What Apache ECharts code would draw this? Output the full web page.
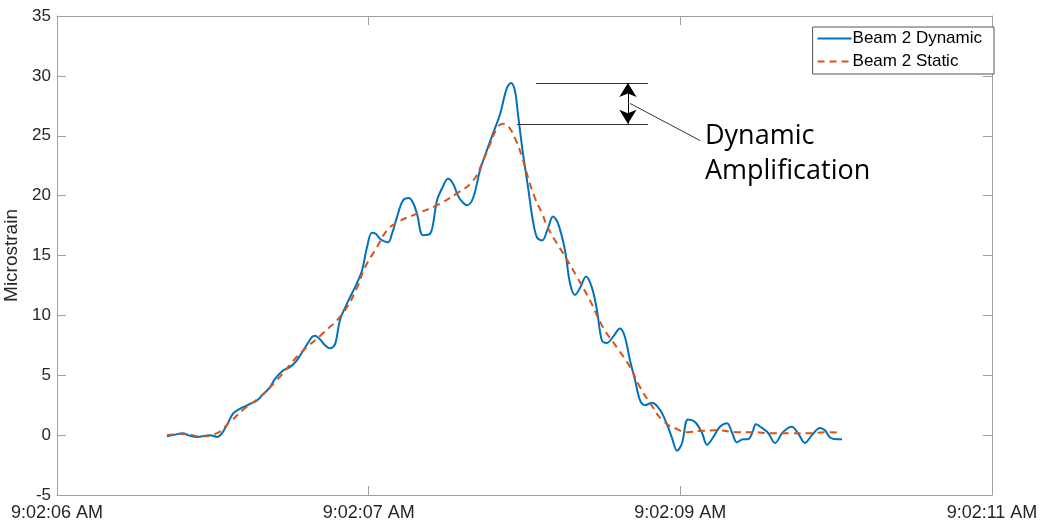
<!DOCTYPE html>
<html><head><meta charset="utf-8">
<script src="https://cdn.jsdelivr.net/npm/echarts@6/dist/echarts.min.js"></script>
<style>html,body{margin:0;padding:0;background:#fff}#c{width:1048px;height:525px}</style>
</head><body><div id="c"></div>
<script>
// time in seconds after 9:02:06 AM
const xTickLabels = ['9:02:06 AM', '9:02:07 AM', '9:02:09 AM', '9:02:11 AM'];
const dynT = [0.588,0.620,0.674,0.701,0.749,0.818,0.856,0.882,0.914,0.941,0.968,1.005,1.032,1.070,1.102,1.139,1.166,1.209,1.246,1.283,1.326,1.364,1.380,1.406,1.433,1.460,1.487,1.513,1.551,1.604,1.631,1.658,1.684,1.706,1.727,1.770,1.791,1.818,1.850,1.882,1.904,1.925,1.957,1.995,2.032,2.059,2.091,2.118,2.144,2.171,2.193,2.225,2.262,2.299,2.332,2.369,2.406,2.428,2.449,2.465,2.492,2.519,2.545,2.567,2.594,2.626,2.652,2.679,2.717,2.743,2.770,2.797,2.829,2.861,2.888,2.914,2.941,2.973,3.011,3.037,3.064,3.091,3.118,3.144,3.182,3.225,3.262,3.289,3.316,3.342,3.374,3.412,3.449,3.476,3.508,3.545,3.583,3.610,3.636,3.668,3.695,3.717,3.738,3.770,3.802,3.840,3.882,3.930,3.963,4.000,4.037,4.080,4.107,4.134,4.171,4.198];
const dynV = [-0.1,0,0.15,0,-0.15,0,-0.15,0.15,1.0,1.8,2.1,2.4,2.6,2.9,3.4,4.0,4.7,5.4,5.7,6.25,7.3,8.2,8.3,8.0,7.5,7.25,7.6,9.6,11.0,12.7,13.75,15.7,16.9,16.8,16.4,16.1,16.8,18.2,19.6,19.8,19.4,18.5,16.7,16.8,19.6,20.6,21.4,21.0,20.0,19.4,19.2,19.8,22.1,23.8,25.2,26.8,29.0,29.4,28.75,26.8,23.5,20.7,17.9,16.5,16.25,17.3,18.25,17.7,15.4,12.7,11.7,12.3,13.25,12.3,10.4,7.9,7.7,8.2,8.9,8.2,6.25,4.6,2.9,2.5,2.7,2.1,0.9,-0.25,-1.3,-0.7,1.3,1.1,0.2,-0.8,-0.2,0.7,1.0,0.2,-0.6,-0.35,-0.35,0.15,0.9,0.6,0.2,-0.65,0.25,0.7,0.15,-0.65,0,0.6,0.4,-0.2,-0.35,-0.35];
const staT = [0.588,0.684,0.765,0.845,0.925,1.005,1.086,1.176,1.299,1.422,1.529,1.604,1.647,1.711,1.765,1.818,1.925,2.032,2.139,2.225,2.278,2.316,2.353,2.385,2.412,2.449,2.487,2.519,2.556,2.594,2.626,2.674,2.706,2.781,2.850,2.920,2.995,3.064,3.118,3.171,3.241,3.316,3.369,3.439,3.529,3.636,3.722,3.813,3.920,4.011,4.118,4.198];
const staV = [0,0.1,-0.1,0.1,1.1,2.25,3.2,4.6,6.8,8.5,10.2,12.3,14.0,15.7,17.1,17.75,18.5,19.2,20.2,21.25,22.9,24.3,25.6,26.0,25.8,24.8,23.2,21.5,19.8,18.5,17.3,16.0,15.2,13.2,11.25,9.0,7.3,5.7,4.0,2.7,1.2,0.5,0.25,0.35,0.4,0.25,0.25,0.15,0.15,0.15,0.25,0.2];
// annotation (data coordinates)
const peakDyn = 29.4, peakSta = 26.0;
const annoText = ['Dynamic', 'Amplification'];

const X_MIN = 0, X_MAX = 5, X_INT = 5 / 3;
const axisGrey = '#a0a0a0', txt = '#262626';
const chart = echarts.init(document.getElementById('c'), null, {renderer: 'canvas'});
const pairs = (t, v) => t.map((x, i) => [x, v[i]]);
const lbl = v => xTickLabels[Math.round(v / X_INT)] || '';
const baseX = {type: 'value', min: X_MIN, max: X_MAX, interval: X_INT, splitLine: {show: false},
  axisLine: {show: true, onZero: false, lineStyle: {color: axisGrey}}, axisTick: {show: true, inside: true, length: 9, lineStyle: {color: axisGrey}}};
const baseY = {type: 'value', min: -5, max: 35, interval: 5, splitLine: {show: false},
  axisLine: {show: true, onZero: false, lineStyle: {color: axisGrey}}, axisTick: {show: true, inside: true, length: 9, lineStyle: {color: axisGrey}}};
const dash = {type: 'solid', color: '#333', width: 1};
chart.setOption({
  animation: false,
  backgroundColor: '#fff',
  grid: {left: 57, right: 56, top: 16, bottom: 30, containLabel: false, outerBoundsMode: 'none'},
  legend: {orient: 'vertical', right: 54, top: 27, itemWidth: 34, itemHeight: 14, itemGap: 6,
    padding: [3, 12, 4, 4], borderColor: '#555', borderWidth: 1, backgroundColor: '#fff',
    itemStyle: {color: 'rgba(0,0,0,0)', borderWidth: 0},
    textStyle: {fontFamily: 'Liberation Sans', fontSize: 17, lineHeight: 17, color: '#000', padding: [0, 0, 0, -4]},
    data: [{name: 'Beam 2 Dynamic'}, {name: 'Beam 2 Static'}]},
  xAxis: [
    Object.assign({}, baseX, {position: 'bottom', axisLabel: {formatter: lbl, fontFamily: 'Liberation Sans', fontSize: 18, color: txt, margin: 9, showMinLabel: true, showMaxLabel: true}}),
    Object.assign({}, baseX, {position: 'top', axisLabel: {show: false}})
  ],
  yAxis: [
    Object.assign({}, baseY, {position: 'left', name: 'Microstrain', nameLocation: 'middle', nameGap: 34,
      nameTextStyle: {fontFamily: 'Liberation Sans', fontSize: 19, color: txt},
      axisLabel: {fontFamily: 'Liberation Sans', fontSize: 17, color: txt, margin: 6}}),
    Object.assign({}, baseY, {position: 'right', axisLabel: {show: false}})
  ],
  series: [
    {name: 'Beam 2 Dynamic', type: 'line', data: pairs(dynT, dynV), showSymbol: false, symbol: 'none', smooth: 0.35,
      lineStyle: {color: '#0072BD', width: 2}, itemStyle: {color: '#0072BD'}, z: 3,
      markLine: {silent: true, symbol: ['none', 'none'], label: {show: false}, lineStyle: dash, animation: false,
        data: [
          [{coord: [2.561, peakDyn]}, {coord: [3.160, peakDyn]}],
          [{coord: [2.460, peakSta]}, {coord: [3.160, peakSta]}],
          [{coord: [3.064, 27.7]}, {coord: [3.439, 24.6]}]
        ]}},
    {name: 'Beam 2 Static', type: 'line', data: pairs(staT, staV), showSymbol: false, symbol: 'none', smooth: 0.5,
      lineStyle: {color: '#D95319', width: 2, type: [7, 5]}, itemStyle: {color: '#D95319'}, z: 4,
      markLine: {silent: true, symbol: ['none', 'arrow'], symbolSize: [13, 14], label: {show: false},
        lineStyle: {type: 'solid', color: '#000', width: 1}, itemStyle: {color: '#000'}, animation: false,
        data: [
          [{coord: [3.053, 27.7]}, {coord: [3.053, peakDyn]}],
          [{coord: [3.053, 27.7]}, {coord: [3.053, peakSta]}]
        ]}}
  ]
});
const p1 = chart.convertToPixel({xAxisIndex: 0, yAxisIndex: 0}, [3.465, 24.9]);
const p2 = chart.convertToPixel({xAxisIndex: 0, yAxisIndex: 0}, [3.465, 22.0]);
chart.setOption({graphic: [
  {type: 'text', left: p1[0], top: p1[1] - 14, style: {text: annoText[0], font: '27px "Open Sans"', fill: '#000'}},
  {type: 'text', left: p2[0], top: p2[1] - 14, style: {text: annoText[1], font: '27px "Open Sans"', fill: '#000'}}
]});
</script></body></html>
